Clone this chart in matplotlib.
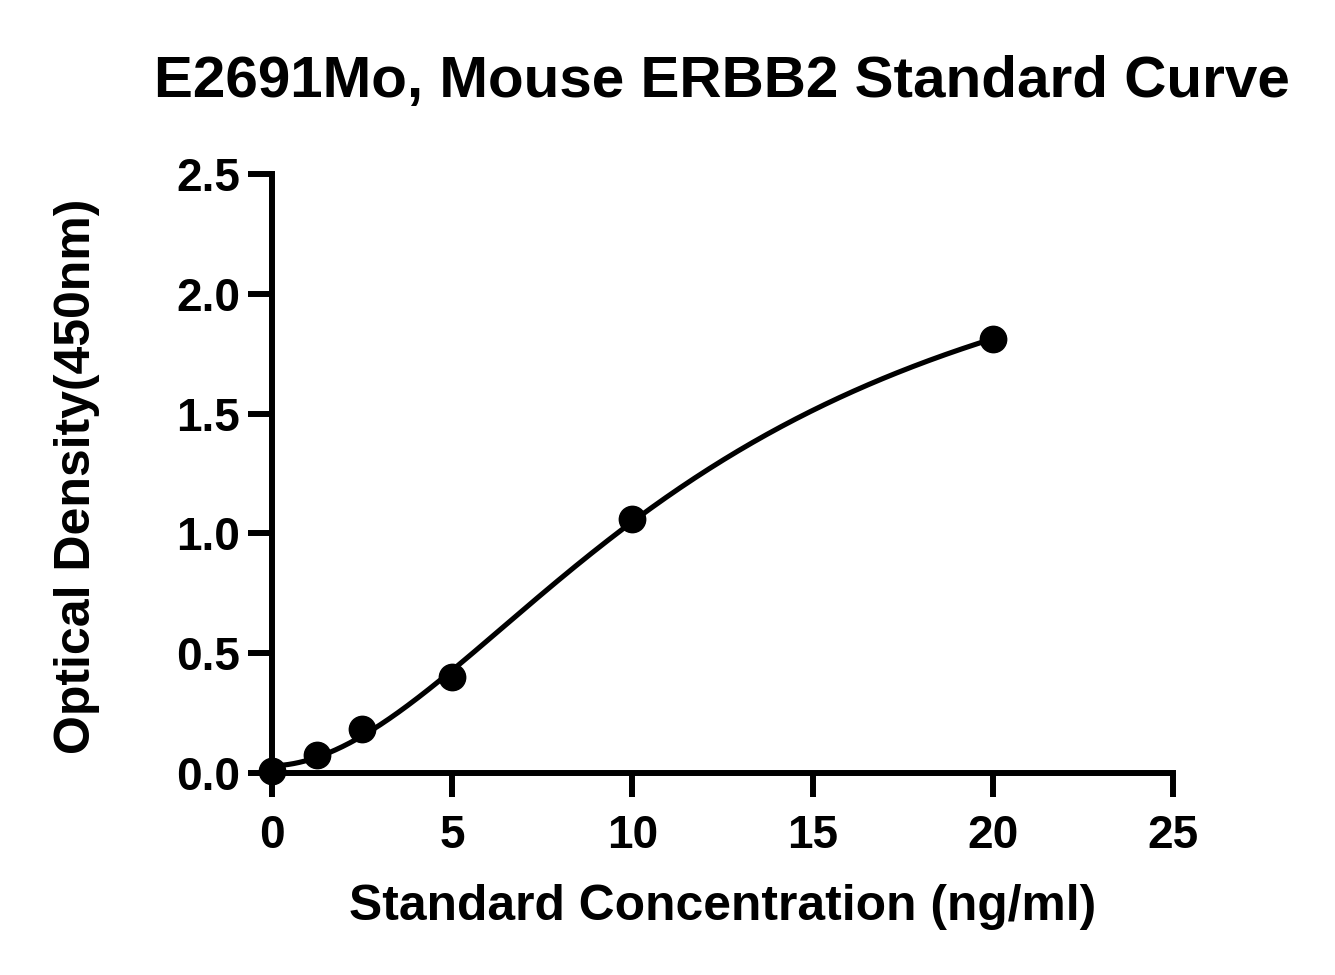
#!/usr/bin/env python3
"""ELISA standard curve: Mouse ERBB2, 4PL fit through standards."""
import numpy as np
import matplotlib
matplotlib.use("Agg")
import matplotlib.pyplot as plt

plt.rcParams['font.family'] = ['Liberation Sans', 'DejaVu Sans']
plt.rcParams['font.weight'] = 'bold'

TITLE = "E2691Mo, Mouse ERBB2 Standard Curve"
XLABEL = "Standard Concentration (ng/ml)"
YLABEL = "Optical Density(450nm)"

conc = np.array([0, 1.25, 2.5, 5, 10, 20])
od = np.array([0.01, 0.075, 0.185, 0.40, 1.06, 1.81])

x_ticks = [0, 5, 10, 15, 20, 25]
y_ticks = [0.0, 0.5, 1.0, 1.5, 2.0, 2.5]

W, H, DPI = 1335, 975, 100


def fit_4pl(x, y):
    """Grid over slope/EC50, linear solve for bottom/top."""
    best = None
    for b in np.linspace(0.8, 4.0, 161):
        for c in np.linspace(2, 60, 291):
            g = 1.0 / (1.0 + (x / c) ** b)
            M = np.column_stack([g, 1 - g])
            coef, *_ = np.linalg.lstsq(M, y, rcond=None)
            err = np.sum((M @ coef - y) ** 2)
            if best is None or err < best[0]:
                best = (err, coef[0], coef[1], b, c)
    return best[1:]


def px(x, y):
    return x / W, 1 - y / H


def main():
    a, d, b, c = fit_4pl(conc, od)
    xs = np.linspace(0, conc.max(), 400)
    ys = d + (a - d) / (1 + (xs / c) ** b)

    fig = plt.figure(figsize=(W / DPI, H / DPI), dpi=DPI)
    l, t = px(272, 174)
    r, bt = px(1173, 773)
    ax = fig.add_axes([l, bt, r - l, t - bt])

    ax.plot(xs, ys, color='black', lw=3.7, clip_on=False, zorder=3)
    ax.plot(conc, od, 'o', color='black', ms=19, clip_on=False, zorder=4)

    ax.set_xlim(0, 25)
    ax.set_ylim(0, 2.5)
    ax.set_xticks(x_ticks)
    ax.set_yticks(y_ticks)
    ax.set_xticklabels([str(v) for v in x_ticks])
    ax.set_yticklabels([f"{v:.1f}" for v in y_ticks])

    for s in ['top', 'right']:
        ax.spines[s].set_visible(False)
    for s in ['left', 'bottom']:
        ax.spines[s].set_linewidth(4.3)
    ax.tick_params(axis='both', length=17, width=4.3, labelsize=33)
    ax.tick_params(axis='x', pad=12.5)
    ax.tick_params(axis='y', pad=6)

    fig.text(*px(722, 97), TITLE, ha='center', va='baseline',
             fontsize=42, fontweight='bold')
    fig.text(*px(723, 920), XLABEL, ha='center', va='baseline',
             fontsize=35.8, fontweight='bold')
    fig.text(*px(90, 476), YLABEL, ha='center', va='baseline', rotation=90,
             rotation_mode='anchor', fontsize=36, fontweight='bold')

    fig.savefig("out.png", dpi=DPI)
    plt.close(fig)


if __name__ == "__main__":
    main()
